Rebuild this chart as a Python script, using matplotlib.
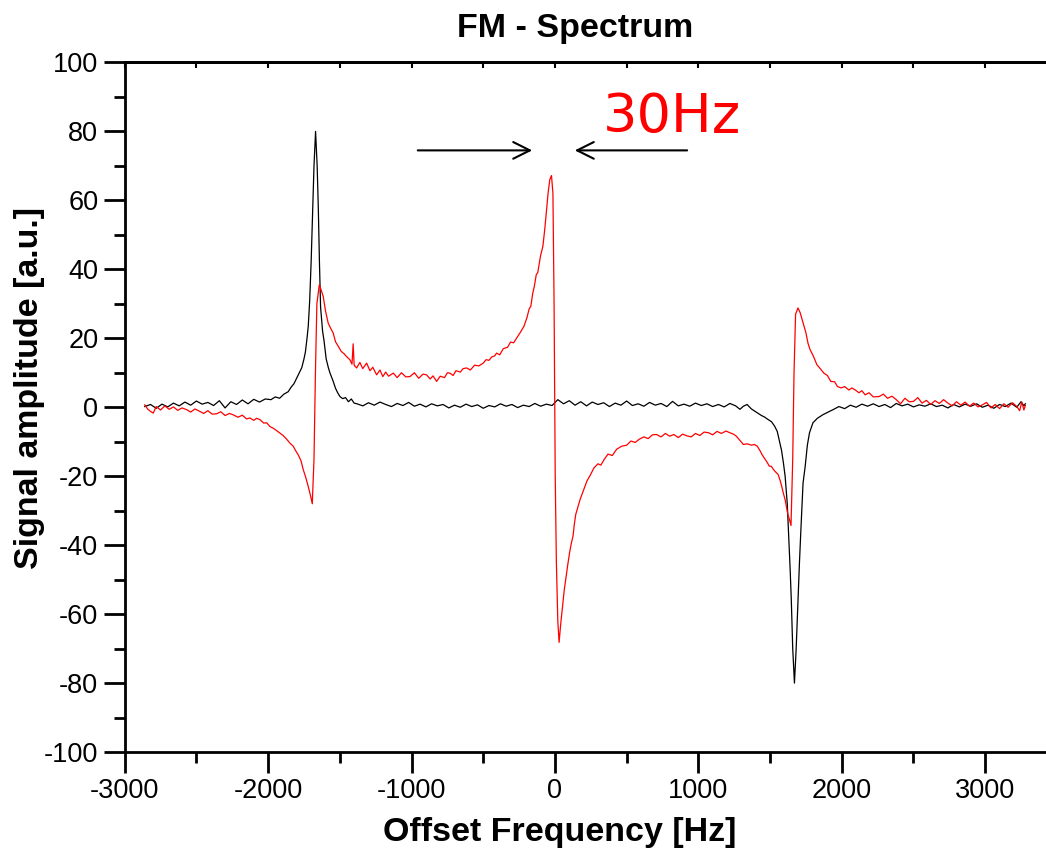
import matplotlib
matplotlib.use("Agg")
import matplotlib.pyplot as plt
from matplotlib.ticker import MultipleLocator

plt.rcParams["font.family"] = ["Liberation Sans", "DejaVu Sans"]
plt.rcParams["axes.unicode_minus"] = False

# black trace (absorption)
freq_black = [
    -2860, -2820, -2780, -2740, -2700, -2660, -2620, -2580, -2540, -2500,
    -2460, -2420, -2380, -2340, -2300, -2260, -2220, -2180, -2140, -2100,
    -2060, -2020, -1980, -1950, -1920, -1890, -1860, -1840, -1820, -1800,
    -1780, -1765, -1750, -1740, -1730, -1720, -1710, -1700, -1690, -1680,
    -1669, -1658, -1650, -1642, -1634, -1620, -1611, -1595, -1580, -1569,
    -1555, -1546, -1530, -1515, -1499, -1480, -1460, -1440, -1420, -1400,
    -1380, -1340, -1300, -1260, -1220, -1180, -1140, -1100, -1060, -1020,
    -980, -940, -900, -860, -820, -780, -740, -700, -660, -620,
    -580, -540, -500, -460, -420, -380, -340, -300, -260, -220,
    -180, -140, -100, -60, -20, 20, 60, 100, 140, 180,
    220, 260, 300, 340, 380, 420, 460, 500, 540, 580,
    620, 660, 700, 740, 780, 820, 860, 900, 940, 980,
    1020, 1060, 1100, 1140, 1180, 1220, 1260, 1290, 1314, 1340,
    1370, 1411, 1440, 1460, 1484, 1510, 1532, 1550, 1568, 1580,
    1593, 1605, 1620, 1629, 1640, 1648, 1658, 1670, 1682, 1695,
    1705, 1714, 1730, 1745, 1760, 1775, 1799, 1830, 1871, 1910,
    1944, 1980, 2020, 2060, 2100, 2140, 2180, 2220, 2260, 2300,
    2340, 2380, 2420, 2460, 2500, 2540, 2580, 2620, 2660, 2700,
    2740, 2780, 2820, 2860, 2900, 2940, 2980, 3020, 3060, 3100,
    3140, 3180, 3220, 3250, 3270, 3280,
]
amp_black = [
    0.2, 0.8, -0.3, 0.9, 0.1, 1.2, 0.4, 1.5, 0.6, 1.8,
    0.9, 1.4, 0.5, 1.9, -0.2, 1.6, 0.8, 2.1, 1.0, 2.3,
    1.5, 2.4, 2.2, 3.0, 2.6, 3.8, 4.5, 5.8, 6.8, 8.5,
    10.2, 11.5, 14.0, 16.0, 19.5, 23.5, 31.0, 42.0, 56.0, 70.0,
    80.0, 70.0, 58.0, 42.0, 29.0, 22.0, 19.6, 14.0, 11.5, 10.0,
    8.5, 7.5, 5.5, 4.2, 3.1, 2.5, 2.8, 1.6, 2.4, 1.2,
    1.0, 0.4, 1.3, 0.6, 1.5, 0.8, 0.2, 1.1, 0.5, 1.4,
    0.3, 0.9, 0.1, 1.0, 0.4, 0.8, -0.2, 0.6, 0.0, 0.9,
    0.2, 0.7, -0.3, 0.5, 0.1, 1.0, 0.3, 0.8, -0.1, 0.6,
    0.2, 1.1, 0.3, 0.9, 0.5, 2.2, 1.0, 1.9, 0.6, 1.6,
    0.4, 1.5, 0.8, 1.3, 0.2, 1.2, 0.6, 1.8, 0.5, 1.0,
    0.3, 1.4, 0.6, 1.1, 0.2, 1.7, 0.4, 0.9, 0.3, 1.2,
    0.5, 1.0, 0.2, 0.8, 0.1, 1.1, 0.4, -0.6, 0.3, 0.8,
    -0.5, -1.6, -2.4, -2.8, -3.5, -4.2, -5.5, -7.0, -10.3, -12.5,
    -16.1, -20.0, -28.0, -36.4, -47.0, -55.8, -70.0, -80.0, -70.0, -55.8,
    -45.0, -36.4, -22.0, -17.1, -11.0, -7.4, -4.5, -3.2, -2.1, -1.3,
    -0.6, 0.2, -0.4, 0.6, 0.0, 0.9, 0.3, 1.0, 0.2, 0.8,
    -0.1, 1.1, 0.4, 0.9, 0.1, 0.7, 0.3, 1.0, 0.2, 0.6,
    -0.2, 0.8, 0.1, 0.9, 0.3, 1.0, 0.0, 0.6, -0.3, 0.8,
    0.2, 1.2, 0.0, 1.6, 0.4, 1.0,
]

# red trace (dispersion)
freq_red = [
    -2860, -2840, -2820, -2801, -2780, -2750, -2720, -2690, -2660, -2630,
    -2600, -2568, -2540, -2510, -2476, -2450, -2420, -2390, -2359, -2330,
    -2300, -2270, -2243, -2210, -2180, -2150, -2127, -2100, -2080, -2057,
    -2030, -2010, -1987, -1960, -1940, -1918, -1895, -1870, -1848, -1825,
    -1805, -1790, -1770, -1755, -1740, -1720, -1705, -1692, -1680, -1670,
    -1660, -1643, -1630, -1616, -1600, -1581, -1565, -1546, -1530, -1511,
    -1490, -1470, -1453, -1430, -1415, -1407, -1400, -1383, -1360, -1340,
    -1313, -1290, -1270, -1243, -1220, -1200, -1180, -1160, -1127, -1100,
    -1070, -1040, -1011, -980, -950, -920, -895, -870, -850, -825,
    -800, -770, -750, -732, -710, -690, -660, -640, -616, -590,
    -560, -530, -500, -480, -460, -440, -420, -407, -385, -360,
    -330, -310, -288, -260, -240, -216, -195, -180, -168, -155,
    -144, -130, -120, -100, -84, -70, -60, -48, -36, -24,
    -14, -6, 2, 10, 20, 29, 40, 53, 65, 78,
    90, 102, 114, 126, 135, 145, 160, 175, 200, 223,
    245, 272, 300, 320, 344, 370, 400, 430, 465, 500,
    530, 560, 587, 620, 650, 680, 708, 740, 770, 800,
    829, 860, 890, 920, 950, 980, 1010, 1040, 1072, 1100,
    1130, 1160, 1193, 1220, 1245, 1265, 1290, 1314, 1340, 1370,
    1390, 1411, 1430, 1445, 1459, 1480, 1495, 1508, 1530, 1556,
    1570, 1581, 1593, 1605, 1615, 1624, 1635, 1646, 1658, 1667,
    1678, 1695, 1710, 1731, 1750, 1765, 1779, 1800, 1827, 1850,
    1875, 1900, 1923, 1950, 1970, 1995, 2020, 2050, 2070, 2091,
    2120, 2140, 2163, 2190, 2220, 2260, 2290, 2320, 2350, 2380,
    2410, 2440, 2470, 2500, 2530, 2560, 2590, 2620, 2650, 2680,
    2710, 2740, 2770, 2800, 2830, 2860, 2890, 2920, 2950, 2981,
    3010, 3040, 3070, 3100, 3130, 3160, 3190, 3221, 3240, 3255,
    3270, 3280,
]
amp_red = [
    0.7, -0.5, -1.2, -1.7, 0.2, -0.8, 0.4, -0.6, 0.1, -0.9,
    -0.2, -0.7, -1.4, -0.5, -1.2, -1.8, -1.0, -2.0, -1.9, -1.3,
    -2.4, -1.8, -2.2, -2.9, -2.3, -3.4, -3.1, -3.8, -3.2, -3.6,
    -4.6, -4.5, -5.6, -6.2, -6.8, -7.5, -8.2, -9.3, -10.4, -11.3,
    -12.8, -13.8, -15.6, -18.1, -20.0, -23.0, -25.5, -28.0, -15.0, 10.0,
    30.0, 35.5, 34.0, 32.2, 28.0, 24.4, 23.0, 21.5, 19.0, 17.7,
    16.2, 15.5, 14.7, 13.8, 12.5, 18.4, 12.2, 11.4, 13.0, 11.2,
    12.8, 10.6, 11.6, 9.4, 10.8, 8.9, 10.2, 9.0, 9.9, 8.6,
    10.0, 8.8, 8.9, 10.0, 8.4, 9.6, 9.4, 8.2, 9.1, 7.5,
    9.0, 8.6, 10.0, 9.9, 9.2, 10.6, 10.2, 11.2, 11.4, 10.8,
    12.2, 12.0, 12.8, 13.8, 13.6, 14.6, 14.9, 15.7, 15.2, 17.0,
    17.4, 18.9, 18.7, 20.5, 21.8, 23.5, 26.0, 28.5, 29.3, 33.0,
    35.0, 38.5, 39.0, 44.0, 46.7, 52.0, 56.4, 62.0, 66.0, 67.2,
    62.0, 30.0, -20.0, -45.0, -62.0, -68.2, -63.0, -57.7, -53.0, -49.0,
    -45.5, -42.2, -39.5, -37.4, -34.0, -31.1, -29.0, -26.8, -24.0, -21.4,
    -19.8, -17.6, -16.4, -16.8, -15.1, -13.6, -14.0, -12.2, -11.3, -11.0,
    -9.8, -10.2, -9.3, -8.6, -9.1, -8.0, -7.9, -8.6, -7.6, -8.4,
    -7.9, -8.8, -7.8, -8.3, -8.6, -7.6, -8.2, -7.2, -7.4, -8.0,
    -7.0, -7.6, -6.9, -7.4, -7.8, -8.4, -9.6, -10.8, -10.6, -11.0,
    -10.8, -11.3, -12.6, -13.8, -14.7, -16.0, -17.1, -17.1, -18.4, -19.5,
    -21.2, -22.9, -25.0, -26.8, -29.0, -31.1, -32.5, -34.3, -15.0, 10.0,
    27.0, 28.8, 27.4, 24.4, 21.6, 18.5, 16.7, 15.0, 12.3, 11.2,
    9.9, 9.2, 7.5, 7.4, 6.0, 5.6, 6.0, 5.0, 5.6, 5.1,
    4.2, 4.8, 3.6, 4.2, 3.0, 3.1, 3.8, 2.6, 3.2, 2.2,
    1.0, 2.6, 1.6, 1.7, 2.8, 1.2, 2.0, 0.8, 1.9, 1.1,
    2.2, 1.2, 0.4, 1.6, 0.6, 1.5, 0.3, 1.2, 0.1, 0.7,
    1.4, -0.2, 0.8, -0.4, 1.0, 0.0, 1.3, 0.2, -1.0, 1.5,
    -0.8, 0.5,
]

fig = plt.figure(figsize=(10.46, 8.51), dpi=100)
ax = fig.add_axes([0.1192, 0.1163, 0.8808, 0.8103])

ax.plot(freq_black, amp_black, color="black", lw=0.9)
ax.plot(freq_red, amp_red, color="red", lw=0.9)

ax.set_xlim(-3000, 3424)
ax.set_ylim(-100, 100)

ax.xaxis.set_major_locator(MultipleLocator(1000))
ax.xaxis.set_minor_locator(MultipleLocator(500))
ax.yaxis.set_major_locator(MultipleLocator(20))
ax.yaxis.set_minor_locator(MultipleLocator(10))
ax.tick_params(which="major", direction="out", length=15, width=2,
               labelsize=19.5, pad=4)
ax.tick_params(which="minor", direction="out", length=8, width=2)

for s in ["left", "bottom", "top"]:
    ax.spines[s].set_linewidth(2)
ax.spines["right"].set_visible(False)

# small inward ticks on the top frame
top = ax.secondary_xaxis("top")
top.set_xticks(list(range(-3000, 3500, 500)))
top.tick_params(direction="in", length=4, width=1.5, labeltop=False)
top.spines["top"].set_linewidth(2)

fig.text(575 / 1046, 1 - 28 / 851, "FM - Spectrum", ha="center", va="center",
         fontsize=24.5, fontweight="bold")
fig.text(560 / 1046, 1 - 832 / 851, "Offset Frequency [Hz]", ha="center",
         va="center", fontsize=24.5, fontweight="bold")
fig.text(30 / 1046, 1 - 388 / 851, "Signal amplitude [a.u.]", ha="center",
         va="center", rotation=90, fontsize=24.5, fontweight="bold")

# 30 Hz marker
ax.annotate("", xy=(-139, 74.5), xytext=(-976, 74.5),
            arrowprops=dict(arrowstyle="->", color="black", lw=1.5,
                            mutation_scale=30))
ax.annotate("", xy=(119, 74.5), xytext=(941, 74.5),
            arrowprops=dict(arrowstyle="->", color="black", lw=1.5,
                            mutation_scale=30))
ax.text(335, 79.7, "30Hz", color="red", fontsize=39, va="baseline",
        ha="left", family="DejaVu Sans")

fig.savefig("out.png", dpi=100)
